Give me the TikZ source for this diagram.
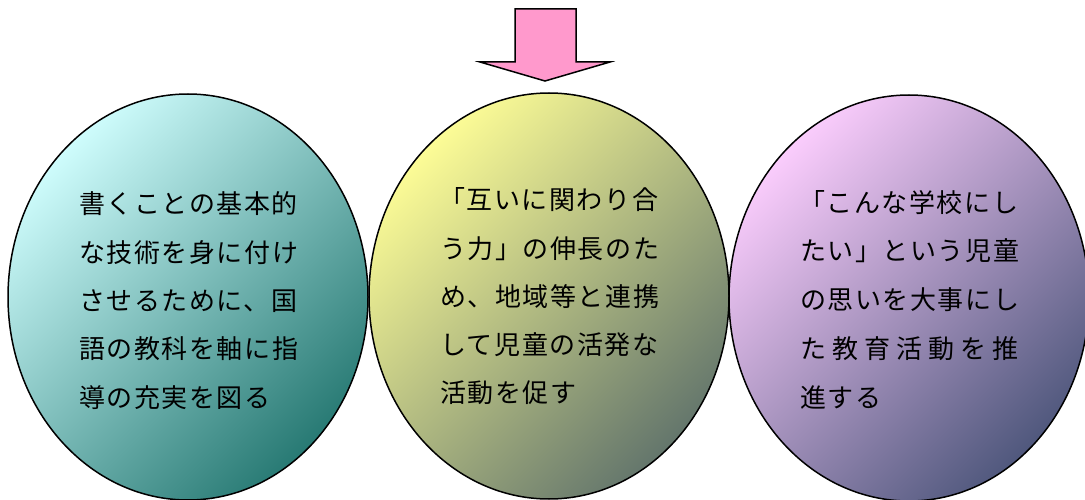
\documentclass[tikz,border=0pt]{standalone}
\usepackage{fontspec}
\newfontfamily\jp[LetterSpace=6]{Noto Sans CJK JP}
\usetikzlibrary{shapes.geometric}
\definecolor{cyanL}{RGB}{206,252,252}
\definecolor{cyanD}{RGB}{40,122,116}
\definecolor{yelL}{RGB}{252,252,150}
\definecolor{yelD}{RGB}{100,118,108}
\definecolor{pinkL}{RGB}{250,204,252}
\definecolor{pinkD}{RGB}{80,88,125}
\definecolor{arrowpink}{RGB}{255,153,204}
\tikzset{
  oval/.style={ellipse, draw=black, line width=1.5pt, inner sep=0pt,
    minimum width=360pt, minimum height=406pt},
  jtext/.style={anchor=base west, inner sep=0pt, font=\jp\fontsize{26}{30}\selectfont},
}
\begin{document}
\begin{tikzpicture}[x=1pt,y=-1pt]
\useasboundingbox (0,0) rectangle (1085,500);
% ellipses
\node[oval, top color=cyanL, bottom color=cyanD, shading angle=45] (e1) at (188,297) {};
\node[oval, top color=yelL, bottom color=yelD, shading angle=45] (e2) at (549,296) {};
\node[oval, top color=pinkL, bottom color=pinkD, shading angle=45] (e3) at (909,298) {};
% arrow
\draw[fill=arrowpink, line width=1.5pt, line join=miter]
  (515,9) -- (576,9) -- (576,62) -- (610,62) -- (545,81) -- (480,62) -- (515,62) -- cycle;
% left text
\node[jtext] (a1) at (79,213) {書くことの基本的};
\node[jtext] (a2) at (79,262) {な技術を身に付け};
\node[jtext] (a3) at (79,310) {させるために、国};
\node[jtext] (a4) at (79,358) {語の教科を軸に指};
\node[jtext] (a5) at (79,407) {導の充実を図る};
% middle text
\node[jtext] (b1) at (439,210) {「互いに関わり合};
\node[jtext] (b2) at (440,258) {う力」の伸長のた};
\node[jtext] (b3) at (440,306) {め、地域等と連携};
\node[jtext] (b4) at (440,354) {して児童の活発な};
\node[jtext] (b5) at (440,402) {活動を促す};
% right text
\node[jtext] (c1) at (799,212) {「こんな学校にし};
\node[jtext] (c2) at (800,260) {たい」という児童};
\node[jtext] (c3) at (800,309) {の思いを大事にし};
\node[jtext] (c4) at (800,358) {\makebox[218pt][s]{た\hfill 教\hfill 育\hfill 活\hfill 動\hfill を\hfill 推}};
\node[jtext] (c5) at (800,407) {進する};
\end{tikzpicture}
\end{document}
